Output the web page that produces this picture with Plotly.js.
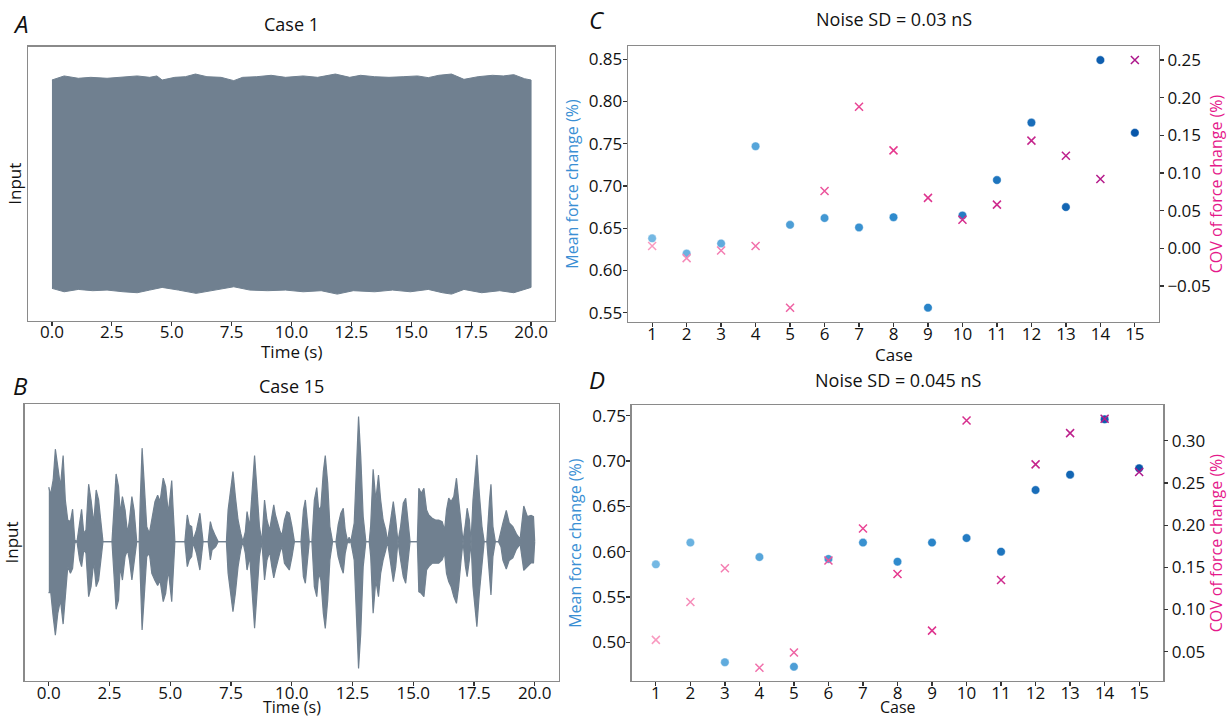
<!DOCTYPE html>
<html>
<head>
<meta charset="utf-8">
<script src="https://cdn.plot.ly/plotly-3.0.1.min.js"></script>
<style>html,body{margin:0;padding:0;background:#fff}#chart{width:1227px;height:717px}</style>
</head>
<body>
<div id="chart"></div>
<script>
// ---------- Panel A (Case 1) envelope ----------
var tA_upper = [0,0.51,1.1,1.62,2.3,2.97,3.56,4.08,4.38,4.6,5.13,5.57,5.99,6.47,7.06,7.59,7.96,8.55,9.15,9.75,10.49,11.09,11.83,12.43,12.88,13.47,14.07,14.66,15.26,15.71,16.15,16.68,17.2,17.79,18.39,18.84,19.28,19.73,20];
var A_upper  = [0.975,1.013,0.991,1.0,0.991,1.006,1.013,1.0,1.013,0.975,1.0,1.006,1.031,1.006,1.0,0.969,1.0,1.006,1.019,1.0,1.013,1.0,1.031,1.0,1.019,1.006,1.0,1.006,1.013,0.997,1.019,1.031,0.981,1.006,1.019,1.013,1.025,0.987,0.975];
var tA_lower = [0,0.51,1.1,1.7,2.3,2.97,3.56,4.08,4.6,5.28,6.02,6.77,7.59,8.26,9.0,9.75,10.49,11.24,11.91,12.58,13.47,14.22,14.96,15.71,16.3,16.68,17.2,17.94,18.69,19.28,20];
var A_lower  = [-0.984,-1.016,-0.994,-1.006,-1.0,-1.016,-1.025,-1.0,-0.975,-1.0,-1.031,-1.0,-0.969,-1.0,-1.006,-1.0,-1.016,-1.006,-1.038,-1.006,-1.016,-1.0,-1.016,-0.994,-1.025,-1.038,-0.994,-1.025,-1.006,-1.025,-0.975];

// ---------- Panel B (Case 15) envelope ----------
var tB = [0.0,0.07,0.18,0.27,0.37,0.48,0.59,0.68,0.78,0.89,0.98,1.07,1.16,1.27,1.35,1.44,1.53,1.64,1.74,1.85,1.95,2.05,2.15,2.23,2.6,2.67,2.77,2.87,2.94,3.03,3.14,3.24,3.32,3.42,3.51,3.62,3.72,3.76,3.84,3.92,4.03,4.14,4.24,4.37,4.48,4.58,4.71,4.81,4.92,5.06,5.12,5.19,5.6,5.7,5.78,5.88,5.94,6.08,6.22,6.29,6.35,6.56,6.65,6.72,6.8,6.87,6.97,7.31,7.38,7.49,7.58,7.68,7.79,7.9,7.99,8.09,8.16,8.27,8.36,8.47,8.57,8.67,8.77,8.88,8.98,9.09,9.18,9.26,9.33,9.43,9.52,9.6,9.7,9.8,9.9,10.01,10.11,10.38,10.48,10.56,10.64,10.72,10.83,10.93,11.03,11.11,11.2,11.3,11.38,11.48,11.57,11.68,11.82,11.91,12.02,12.12,12.2,12.3,12.36,12.43,12.57,12.66,12.75,12.84,12.94,13.05,13.19,13.25,13.35,13.46,13.57,13.66,13.76,13.87,13.94,14.07,14.18,14.28,14.37,14.48,14.59,14.69,14.78,14.87,15.17,15.23,15.33,15.44,15.55,15.64,15.78,15.92,16.05,16.19,16.29,16.37,16.46,16.56,16.67,16.78,16.87,16.97,17.05,17.15,17.22,17.31,17.38,17.46,17.56,17.62,17.72,17.83,17.92,18.03,18.14,18.2,18.28,18.38,18.51,18.61,18.69,18.83,18.95,19.1,19.25,19.4,19.55,19.7,19.85,19.95,20.0];
var B_upper = [0.435,0.373,0.493,0.739,0.6,0.44,0.688,0.333,0.173,0.16,0.259,0.013,0,0.133,0.259,0.067,0.093,0.459,0.333,0.147,0.413,0.333,0.12,0,0,0.253,0.541,0.44,0.227,0.36,0.253,0.067,0.173,0.36,0.253,0,0,0.307,0.747,0.493,0.12,0.067,0.173,0.32,0.37,0.32,0.507,0.44,0.227,0.488,0.253,0,0,0.213,0.133,0.12,0.01,0.093,0.227,0.12,0,0,0.16,0.107,0.067,0.04,0,0,0.253,0.413,0.56,0.36,0.173,0.067,0,0.08,0.24,0.12,0.36,0.688,0.413,0.12,0,0.333,0.173,0.09,0.2,0.293,0.213,0.147,0.08,0.053,0.173,0.24,0.227,0.12,0,0,0.253,0.333,0.173,0,0,0.333,0.432,0.253,0.28,0.56,0.688,0.467,0.12,0,0,0.133,0.227,0.267,0.093,0,0.035,0,0.147,0.547,1.0,0.68,0.2,0,0,0.133,0.579,0.333,0.533,0.333,0.173,0.093,0,0.173,0.32,0.173,0,0.12,0.307,0.347,0.147,0,0,0.427,0.387,0.427,0.253,0.213,0.187,0.173,0.173,0.16,0.093,0.253,0.347,0.32,0.36,0.507,0.333,0.12,0,0.147,0.267,0.173,0,0.333,0.6,0.693,0.387,0.12,0,0,0.333,0.459,0.12,0,0,0.093,0.147,0.25,0.15,0.12,0.06,0.02,0.285,0.2,0.21,0.2,0];
var B_lower = [-0.413,-0.387,-0.6,-0.747,-0.573,-0.467,-0.659,-0.413,-0.2,-0.253,-0.213,-0.013,0,-0.147,-0.2,-0.067,-0.093,-0.44,-0.36,-0.16,-0.36,-0.307,-0.12,0,0,-0.253,-0.541,-0.467,-0.2,-0.307,-0.12,-0.067,-0.147,-0.307,-0.147,0,0,-0.253,-0.707,-0.467,-0.12,-0.093,-0.253,-0.31,-0.35,-0.31,-0.48,-0.413,-0.227,-0.48,-0.253,0,0,-0.2,-0.147,-0.12,-0.01,-0.093,-0.227,-0.093,0,0,-0.147,-0.067,-0.053,-0.04,0,0,-0.253,-0.413,-0.56,-0.413,-0.2,-0.067,0,-0.093,-0.227,-0.12,-0.36,-0.693,-0.413,-0.12,0,-0.307,-0.147,-0.08,-0.2,-0.29,-0.227,-0.147,-0.08,-0.04,-0.173,-0.2,-0.227,-0.12,0,0,-0.28,-0.333,-0.173,0,0,-0.36,-0.44,-0.253,-0.307,-0.573,-0.693,-0.467,-0.147,0,0,-0.12,-0.2,-0.253,-0.093,0,-0.01,0,-0.147,-0.573,-1.013,-0.733,-0.2,0,0,-0.12,-0.573,-0.307,-0.44,-0.253,-0.147,-0.067,0,-0.173,-0.32,-0.2,0,-0.147,-0.28,-0.333,-0.173,0,0,-0.4,-0.413,-0.44,-0.227,-0.2,-0.173,-0.173,-0.173,-0.147,-0.093,-0.253,-0.32,-0.36,-0.44,-0.493,-0.36,-0.147,0,-0.2,-0.28,-0.147,0,-0.36,-0.573,-0.68,-0.413,-0.147,0,0,-0.307,-0.427,-0.12,0,0,-0.04,-0.147,-0.22,-0.15,-0.13,-0.06,-0.02,-0.23,-0.2,-0.17,-0.17,0];

// ---------- Panels C and D ----------
var cases = [1,2,3,4,5,6,7,8,9,10,11,12,13,14,15];
var meanC = [0.638,0.620,0.632,0.747,0.654,0.662,0.651,0.663,0.556,0.665,0.707,0.775,0.675,0.849,0.763];
var covC  = [0.003,-0.013,-0.003,0.003,-0.079,0.076,0.188,0.130,0.067,0.038,0.058,0.143,0.123,0.092,0.250];
var meanD = [0.586,0.610,0.478,0.594,0.473,0.592,0.610,0.589,0.610,0.615,0.600,0.668,0.685,0.746,0.692];
var covD  = [0.064,0.109,0.149,0.031,0.049,0.158,0.196,0.142,0.075,0.324,0.135,0.272,0.309,0.326,0.263];

var timeTicks = [0,2.5,5,7.5,10,12.5,15,17.5,20];

// ---------- styles ----------
var FONT = 'Open Sans, Liberation Sans, sans-serif';
var WAVE = '#708090';
var BLUE_SCALE = [[0,'#74b8e3'],[0.5,'#2f8bcd'],[1,'#0857aa']];
var PINK_SCALE = [[0,'#f99ac0'],[0.5,'#e6388e'],[1,'#ad168b']];
var MEAN_TITLE = '#3a8fd4';
var COV_TITLE = '#e5198b';

function px(x){return x/1227;}
function py(y){return 1 - y/717;}

var traces = [];
// A
traces.push({x: tA_upper.concat(tA_lower.slice().reverse()), y: A_upper.concat(A_lower.slice().reverse()),
  type:'scatter', mode:'lines', fill:'toself', fillcolor:WAVE, line:{color:WAVE,width:1},
  xaxis:'x', yaxis:'y', hoverinfo:'skip', showlegend:false});
// B
traces.push({x:tB, y:B_upper, type:'scatter', mode:'lines', line:{color:WAVE,width:1.2},
  xaxis:'x2', yaxis:'y2', showlegend:false, hoverinfo:'skip'});
traces.push({x:tB, y:B_lower, type:'scatter', mode:'lines', fill:'tonexty', fillcolor:WAVE, line:{color:WAVE,width:1.2},
  xaxis:'x2', yaxis:'y2', showlegend:false, hoverinfo:'skip'});

function dots(xa, ya, vals){
  return {x:cases, y:vals, type:'scatter', mode:'markers', xaxis:xa, yaxis:ya, showlegend:false,
    marker:{size:8.5, color:cases, colorscale:BLUE_SCALE, cmin:1, cmax:15, line:{width:0.6,color:'rgba(255,255,255,0.7)'}}};
}
function crosses(xa, ya, vals){
  return {x:cases, y:vals, type:'scatter', mode:'markers', xaxis:xa, yaxis:ya, showlegend:false,
    marker:{symbol:'x-thin', size:8, color:cases, colorscale:PINK_SCALE, cmin:1, cmax:15,
      line:{width:1.5, color:cases, colorscale:PINK_SCALE, cmin:1, cmax:15}}};
}
traces.push(dots('x3','y3',meanC));
traces.push(crosses('x3','y4',covC));
traces.push(dots('x4','y5',meanD));
traces.push(crosses('x4','y6',covD));

var tickFont = {family:FONT, size:17, color:'#111'};
var frame = {showline:true, mirror:true, linecolor:'#8a8a8a', linewidth:1.3, showgrid:false, zeroline:false};
var tickStyle = {ticks:'outside', ticklen:4, tickwidth:1.2, tickcolor:'#333', tickfont:tickFont};

function timeAxis(domain, anchor){
  return Object.assign({}, frame, tickStyle, {domain:domain, anchor:anchor, range:[-1,21],
    tickvals:timeTicks, tickformat:'.1f', ticklabelstandoff:-8});
}
function inputAxis(domain, anchor, range){
  return Object.assign({}, frame, {domain:domain, anchor:anchor, range:range, showticklabels:false, ticks:'',
    title:{text:'Input', font:{family:FONT,size:17,color:'#111'}, standoff:0}});
}
function caseAxis(domain, anchor){
  return Object.assign({}, frame, tickStyle, {domain:domain, anchor:anchor, range:[0.3,15.7], tickvals:cases,
    ticklabelstandoff:-8});
}
function meanAxis(domain, anchor, range, dt){
  return Object.assign({}, frame, tickStyle, {domain:domain, anchor:anchor, range:range, dtick:dt, tick0:0, tickformat:'.2f',
    ticklabelstandoff:-3,
    title:{text:'Mean force change (%)', font:{family:FONT,size:16,color:MEAN_TITLE}, standoff:6}});
}
function covAxis(over, anchor, range){
  return Object.assign({}, tickStyle, {overlaying:over, anchor:anchor, side:'right', range:range, dtick:0.05, tick0:0,
    tickformat:'.2f', showgrid:false, zeroline:false, showline:false,
    title:{text:'COV of force change (%)', font:{family:FONT,size:16,color:COV_TITLE}, standoff:11}});
}

function label(text, x, y, size){
  return {text:text, x:px(x), y:py(y), xref:'paper', yref:'paper', xanchor:'center', yanchor:'middle',
    showarrow:false, borderpad:0, font:{family:FONT, size:size, color:'#111'}};
}

var layout = {
  width:1227, height:717, margin:{l:0,r:0,t:0,b:0}, paper_bgcolor:'#fff', plot_bgcolor:'#fff',
  font:{family:FONT, color:'#111'}, showlegend:false,
  xaxis:  timeAxis([px(28),px(555)], 'y'),
  yaxis:  inputAxis([py(320.7),py(46.7)], 'x', [-1.288,1.288]),
  xaxis2: timeAxis([px(24.5),px(559)], 'y2'),
  yaxis2: inputAxis([py(681),py(404)], 'x2', [-1.114,1.1]),
  xaxis3: caseAxis([px(628),px(1159)], 'y3'),
  yaxis3: meanAxis([py(322),py(46)], 'x3', [0.539,0.8657], 0.05),
  yaxis4: covAxis('y3','x3',[-0.0978,0.2686]),
  xaxis4: caseAxis([px(631.7),px(1163.3)], 'y5'),
  yaxis5: meanAxis([py(681),py(405.3)], 'x4', [0.4573,0.7615], 0.05),
  yaxis6: covAxis('y5','x4',[0.0153,0.342]),
  annotations: [
    label('<i>A</i>', 20, 23, 24),
    label('Case 1', 291.5, 24, 18),
    label('Time (s)', 291.5, 352, 17),
    label('<i>B</i>', 20, 385, 24),
    label('Case 15', 291.7, 386, 18),
    label('Time (s)', 291.7, 706.5, 16),
    label('<i>C</i>', 597, 19, 24),
    label('Noise SD = 0.03 nS', 893.5, 19, 18),
    label('Case', 893.5, 354, 17),
    label('<i>D</i>', 597, 379, 24),
    label('Noise SD = 0.045 nS', 897.5, 380, 18),
    label('Case', 897.5, 706.5, 16)
  ]
};

Plotly.newPlot('chart', traces, layout, {staticPlot:true, displayModeBar:false});
</script>
</body>
</html>
